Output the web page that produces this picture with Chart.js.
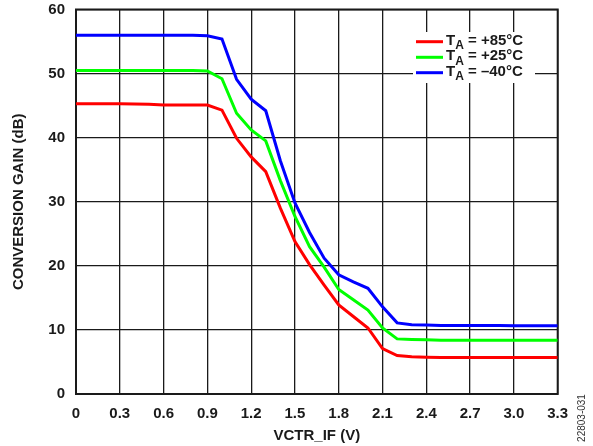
<!DOCTYPE html>
<html>
<head>
<meta charset="utf-8">
<script src="https://cdn.jsdelivr.net/npm/chart.js@4/dist/chart.umd.min.js"></script>
<style>
  body { margin: 0; background: #fff; }
  #chart { display: block; }
</style>
</head>
<body>
<canvas id="chart" width="593" height="446"></canvas>
<script>
// VCTR_IF sweep (V), 0.1 V steps
const vctr = [0, 0.1, 0.2, 0.3, 0.4, 0.5, 0.6, 0.7, 0.8, 0.9, 1.0, 1.1, 1.2, 1.3, 1.4, 1.5, 1.6,
              1.7, 1.8, 1.9, 2.0, 2.1, 2.2, 2.3, 2.4, 2.5, 2.6, 2.7, 2.8, 2.9, 3.0, 3.1, 3.2, 3.3];

// conversion gain (dB) per temperature
const gain85 = [45.3, 45.3, 45.3, 45.3, 45.25, 45.2, 45.1, 45.1, 45.1, 45.1, 44.3, 39.9, 37.0, 34.7,
                29.0, 23.8, 20.2, 17.0, 13.9, 12.1, 10.3, 7.1, 6.0, 5.8, 5.75, 5.7, 5.7, 5.7, 5.7,
                5.7, 5.7, 5.7, 5.7, 5.7];
const gain25 = [50.5, 50.5, 50.5, 50.5, 50.5, 50.5, 50.5, 50.5, 50.5, 50.4, 49.2, 43.8, 41.2, 39.5,
                33.3, 27.7, 23.0, 19.8, 16.3, 14.7, 13.1, 10.3, 8.6, 8.5, 8.45, 8.4, 8.4, 8.4, 8.4,
                8.4, 8.4, 8.4, 8.4, 8.4];
const gainM40 = [56.0, 56.0, 56.0, 56.0, 56.0, 56.0, 56.0, 56.0, 56.0, 55.9, 55.4, 49.1, 46.0, 44.2,
                 36.4, 29.8, 25.2, 21.2, 18.6, 17.5, 16.5, 13.6, 11.1, 10.8, 10.75, 10.7, 10.7, 10.7,
                 10.7, 10.7, 10.65, 10.65, 10.65, 10.65];

const xTickValues = [0, 0.3, 0.6, 0.9, 1.2, 1.5, 1.8, 2.1, 2.4, 2.7, 3.0, 3.3];
const xTickLabels = ['0', '0.3', '0.6', '0.9', '1.2', '1.5', '1.8', '2.1', '2.4', '2.7', '3.0', '3.3'];
const yTickValues = [0, 10, 20, 30, 40, 50, 60];

const legendLabels = [' = +85°C', ' = +25°C', ' = \u201340°C'];
const lineColors = ['#ff0000', '#00ff00', '#0000ff'];

const FONT = 'Liberation Sans, Arial, sans-serif';

function toPoints(ys) {
    return vctr.map(function(x, i) { return { x: x, y: ys[i] }; });
}

// frame, legend box with subscript, and figure number
const decorations = {
    id: 'decorations',
    beforeDatasetsDraw: function(chart) {
        const a = chart.chartArea;
        const ctx = chart.ctx;
        ctx.save();
        ctx.strokeStyle = '#1a1a1a';
        ctx.lineWidth = 2;
        ctx.strokeRect(a.left, a.top, a.right - a.left, a.bottom - a.top);
        ctx.restore();
    },
    afterDatasetsDraw: function(chart) {
        const ctx = chart.ctx;
        ctx.save();
        ctx.fillStyle = '#fff';
        ctx.fillRect(413, 32, 122, 51);
        const rows = [41.7, 57.3, 72.7];
        rows.forEach(function(y, i) {
            ctx.strokeStyle = lineColors[i];
            ctx.lineWidth = 3;
            ctx.beginPath();
            ctx.moveTo(416, y);
            ctx.lineTo(443, y);
            ctx.stroke();

            ctx.fillStyle = '#1a1a1a';
            ctx.textBaseline = 'middle';
            ctx.textAlign = 'left';
            ctx.font = 'bold 15px ' + FONT;
            let x = 446;
            ctx.fillText('T', x, y - 1);
            x += ctx.measureText('T').width;
            ctx.font = 'bold 12px ' + FONT;
            ctx.fillText('A', x, y + 4);
            x += ctx.measureText('A').width;
            ctx.font = 'bold 15px ' + FONT;
            ctx.fillText(legendLabels[i], x, y - 1);
        });

        ctx.translate(582, 418);
        ctx.rotate(-Math.PI / 2);
        ctx.font = '10px ' + FONT;
        ctx.fillStyle = '#333';
        ctx.textAlign = 'center';
        ctx.textBaseline = 'middle';
        ctx.fillText('22803-031', 0, 0);
        ctx.restore();
    }
};

const ctx = document.getElementById('chart').getContext('2d');
const chart = new Chart(ctx, {
    type: 'line',
    data: {
        datasets: [
            { label: 'TA = +85°C', data: toPoints(gain85), borderColor: lineColors[0] },
            { label: 'TA = +25°C', data: toPoints(gain25), borderColor: lineColors[1] },
            { label: 'TA = –40°C', data: toPoints(gainM40), borderColor: lineColors[2] }
        ]
    },
    options: {
        responsive: false,
        animation: false,
        devicePixelRatio: 1,
        layout: { padding: { top: 9.5, right: 35.3, bottom: 0, left: 0 } },
        elements: {
            line: { borderWidth: 3, tension: 0, fill: false },
            point: { radius: 0 }
        },
        plugins: {
            legend: { display: false },
            tooltip: { enabled: false }
        },
        scales: {
            x: {
                type: 'linear',
                min: 0,
                max: 3.3,
                afterBuildTicks: function(scale) {
                    scale.ticks = xTickValues.map(function(v) { return { value: v }; });
                },
                afterFit: function(scale) {
                    scale.height = 52;
                    scale.paddingLeft = 0;
                    scale.paddingRight = 0;
                },
                grid: { color: '#1a1a1a', lineWidth: 1.3, drawTicks: false },
                border: { display: false },
                ticks: {
                    padding: 11,
                    color: '#1a1a1a',
                    font: { family: FONT, size: 15, weight: 'bold' },
                    maxRotation: 0,
                    autoSkip: false,
                    callback: function(v, i) { return xTickLabels[i]; }
                },
                title: {
                    display: true,
                    text: 'VCTR_IF (V)',
                    color: '#1a1a1a',
                    font: { family: FONT, size: 15, weight: 'bold' },
                    padding: { top: 0, bottom: 1.5 }
                }
            },
            y: {
                min: 0,
                max: 60,
                afterBuildTicks: function(scale) {
                    scale.ticks = yTickValues.map(function(v) { return { value: v }; });
                },
                afterFit: function(scale) {
                    scale.width = 76;
                    scale.paddingTop = 0;
                    scale.paddingBottom = 0;
                },
                grid: { color: '#1a1a1a', lineWidth: 1.3, drawTicks: false },
                border: { display: false },
                ticks: {
                    padding: 11,
                    color: '#1a1a1a',
                    font: { family: FONT, size: 15, weight: 'bold' }
                },
                title: {
                    display: true,
                    text: 'CONVERSION GAIN (dB)',
                    color: '#1a1a1a',
                    font: { family: FONT, size: 15, weight: 'bold' },
                    padding: { top: 9.5, bottom: 0 }
                }
            }
        }
    },
    plugins: [decorations]
});
</script>
</body>
</html>
